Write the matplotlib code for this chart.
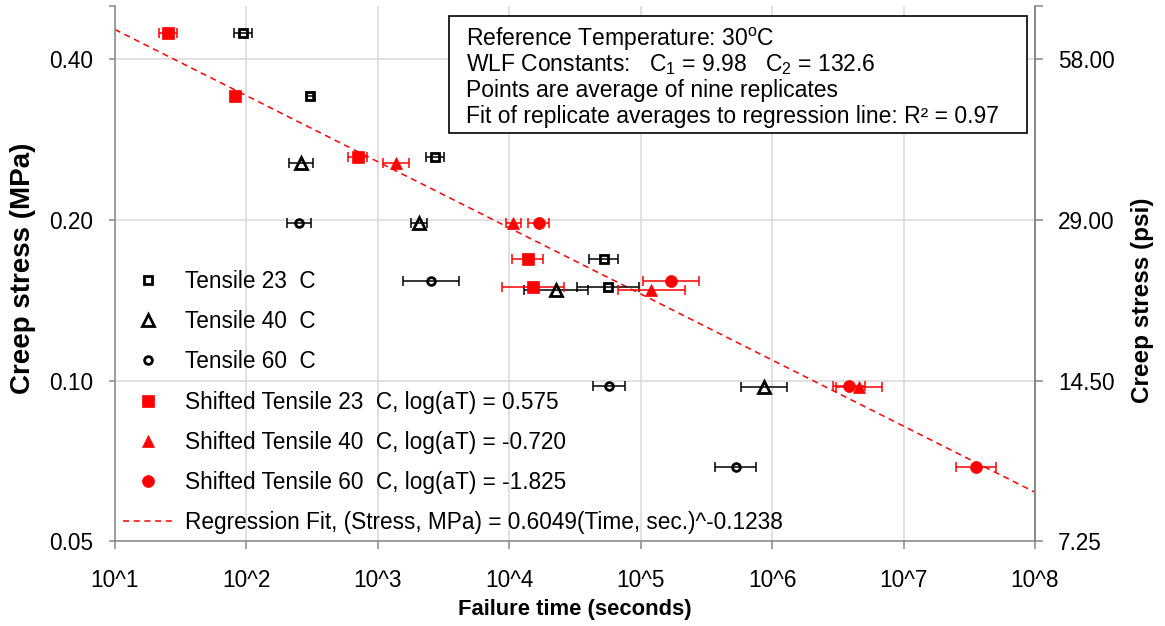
import matplotlib
matplotlib.use("Agg")
import matplotlib.pyplot as plt
from matplotlib.patches import Rectangle
from matplotlib.ticker import FixedLocator, FixedFormatter, NullFormatter, NullLocator

plt.rcParams["font.family"] = ["Liberation Sans", "DejaVu Sans"]
plt.rcParams["mathtext.fontset"] = "custom"
plt.rcParams["mathtext.rm"] = "Liberation Sans"
plt.rcParams["mathtext.it"] = "Liberation Sans:italic"
plt.rcParams["mathtext.bf"] = "Liberation Sans:bold"

# failure time (s), stress (MPa), error half-width (decades of time)
t23 = [95.0, 305.5, 2729, 52360, 56500]
s23 = [0.4475, 0.3415, 0.262, 0.1688, 0.1496]
e23 = [0.068, 0.023, 0.068, 0.112, 0.236]

t40 = [260.9, 2073, 22590, 868600]
s40 = [0.256, 0.1977, 0.1479, 0.0972]
e40 = [0.091, 0.061, 0.243, 0.173]

t60 = [251.8, 2544, 57500, 529000]
s60 = [0.1977, 0.1537, 0.0979, 0.0688]
e60 = [0.089, 0.213, 0.124, 0.154]

sh_t23 = [25.3, 82.1, 704.7, 13840, 15100]
sh_e23 = [0.068, 0.023, 0.071, 0.116, 0.236]

sh_t40 = [1371, 10760, 120000, 4586000]
sh_e40 = [0.099, 0.059, 0.255, 0.173]

sh_t60 = [16780, 170200, 3850000, 35800000]
sh_e60 = [0.081, 0.211, 0.124, 0.152]

fit_time = [1e1, 1e8]
fit_stress = [0.4546, 0.0618]

x_ticks = [1e1, 1e2, 1e3, 1e4, 1e5, 1e6, 1e7, 1e8]
x_labels = ["10^1", "10^2", "10^3", "10^4", "10^5", "10^6", "10^7", "10^8"]
y_ticks = [0.05, 0.10, 0.20, 0.40]
y_labels = ["0.05", "0.10", "0.20", "0.40"]
psi_ticks = [7.25, 14.50, 29.00, 58.00]
psi_labels = ["7.25", "14.50", "29.00", "58.00"]

Y_MIN, Y_MAX = 0.05, 0.503
MPA_TO_PSI = 145.0

box_lines = [
    r"Reference Temperature: 30$^{\mathrm{o}}$C",
    r"WLF Constants:   C$_{\mathrm{1}}$ = 9.98   C$_{\mathrm{2}}$ = 132.6",
    "Points are average of nine replicates",
    "Fit of replicate averages to regression line: R\u00b2 = 0.97",
]

W, H = 1165, 626
GRID = "#d9d9d9"
AXIS = "#868686"
RED = "#ff0000"
FS = 16.3


def fx(px):
    return px / W


def fy(py):
    return 1 - py / H


def log_err(times, decades):
    lo = [t - t / 10 ** d for t, d in zip(times, decades)]
    hi = [t * 10 ** d - t for t, d in zip(times, decades)]
    return [lo, hi]


fig = plt.figure(figsize=(W / 100, H / 100), dpi=100)
left, right, top, bottom = 114.8, 1035.0, 6.0, 541.4
ax = fig.add_axes([fx(left), fy(bottom), fx(right - left), (bottom - top) / H])
ax.set_xscale("log")
ax.set_yscale("log")
ax.set_xlim(1e1, 1e8)
ax.set_ylim(Y_MIN, Y_MAX)

series = [
    (t23, s23, e23, "Tensile 23  C", dict(marker="s", ms=5.6, mfc="none", mec="black", mew=2.0), "black"),
    (t40, s40, e40, "Tensile 40  C", dict(marker="^", ms=8.0, mfc="none", mec="black", mew=2.0), "black"),
    (t60, s60, e60, "Tensile 60  C", dict(marker="o", ms=5.6, mfc="none", mec="black", mew=2.0), "black"),
    (sh_t23, s23, sh_e23, "Shifted Tensile 23  C, log(aT) = 0.575", dict(marker="s", ms=8.6, mfc=RED, mec=RED, mew=0.5), RED),
    (sh_t40, s40, sh_e40, "Shifted Tensile 40  C, log(aT) = -0.720", dict(marker="^", ms=9.0, mfc=RED, mec=RED, mew=0.5), RED),
    (sh_t60, s60, sh_e60, "Shifted Tensile 60  C, log(aT) = -1.825", dict(marker="o", ms=8.6, mfc=RED, mec=RED, mew=0.5), RED),
]

handles = []
for i, (tt, ss, ee, label, style, color) in enumerate(series):
    ax.errorbar(tt, ss, xerr=log_err(tt, ee), fmt="none", ecolor=color,
                elinewidth=1.1, capsize=3.3, capthick=1.1, zorder=3 + i * 0.1)
    (h,) = ax.plot(tt, ss, linestyle="none", label=label, zorder=4 + i * 0.1, **style)
    handles.append(h)

(fit_line,) = ax.plot(fit_time, fit_stress, color=RED, lw=1.1, linestyle=(0, (4, 3)),
                      label="Regression Fit, (Stress, MPa) = 0.6049(Time, sec.)^-0.1238", zorder=2.5)
handles.append(fit_line)

# axes styling
ax.xaxis.set_major_locator(FixedLocator(x_ticks))
ax.xaxis.set_major_formatter(FixedFormatter(x_labels))
ax.xaxis.set_minor_locator(NullLocator())
ax.yaxis.set_major_locator(FixedLocator(y_ticks))
ax.yaxis.set_major_formatter(FixedFormatter(y_labels))
ax.yaxis.set_minor_locator(FixedLocator([Y_MAX]))
ax.yaxis.set_minor_formatter(NullFormatter())
ax.grid(True, which="major", color=GRID, lw=1.1, zorder=0)
ax.set_axisbelow(True)
for side in ["left", "bottom", "right"]:
    ax.spines[side].set_color(AXIS)
    ax.spines[side].set_linewidth(1.1)
ax.spines["top"].set_visible(False)
ax.tick_params(axis="x", which="major", direction="out", length=6, width=1.1, color=AXIS,
               labelsize=FS, pad=14)
ax.tick_params(axis="y", which="both", direction="out", length=4.5, width=1.1, color=AXIS,
               labelsize=FS, pad=11)
ax.set_xlabel("Failure time (seconds)", fontsize=15.8, fontweight="bold")
ax.xaxis.set_label_coords(0.5, -(599 - bottom) / (bottom - top))
ax.set_ylabel("Creep stress (MPa)", fontsize=20, fontweight="bold")
ax.yaxis.set_label_coords((36 - left) / (right - left), (bottom - 268) / (bottom - top))

ax2 = ax.twinx()
ax2.set_yscale("log")
ax2.set_ylim(Y_MIN * MPA_TO_PSI, Y_MAX * MPA_TO_PSI)
ax2.yaxis.set_major_locator(FixedLocator(psi_ticks))
ax2.yaxis.set_major_formatter(FixedFormatter(psi_labels))
ax2.yaxis.set_minor_locator(FixedLocator([Y_MAX * MPA_TO_PSI]))
ax2.yaxis.set_minor_formatter(NullFormatter())
for side in ["left", "bottom", "top"]:
    ax2.spines[side].set_visible(False)
ax2.spines["right"].set_color(AXIS)
ax2.spines["right"].set_linewidth(1.1)
ax2.tick_params(axis="y", which="both", direction="out", length=6, width=1.1, color=AXIS,
                labelsize=FS, pad=10.5)
ax2.set_ylabel("Creep stress (psi)", fontsize=17.5, fontweight="bold")
ax2.yaxis.set_label_coords((1131 - left) / (right - left), (bottom - 300) / (bottom - top))

# legend (no frame, transparent)
ax2.legend(handles=handles, loc="upper left", bbox_to_anchor=(fx(122.7), fy(270)),
           bbox_transform=fig.transFigure, frameon=False, fontsize=FS, borderpad=0,
           borderaxespad=0, labelspacing=0.76, handlelength=2.24, handletextpad=0.52,
           numpoints=1)

# annotation box
fig.patches.append(Rectangle((fx(449.3), fy(133)), fx(1027 - 449.3), (133 - 15.7) / H,
                             transform=fig.transFigure, facecolor="white",
                             edgecolor="black", lw=1.2, zorder=5))
for line, base in zip(box_lines, [46, 71.5, 96.8, 123]):
    fig.text(fx(466), fy(base), line, fontsize=16.5, va="baseline", ha="left", zorder=6)

fig.savefig("out.png", dpi=100)
